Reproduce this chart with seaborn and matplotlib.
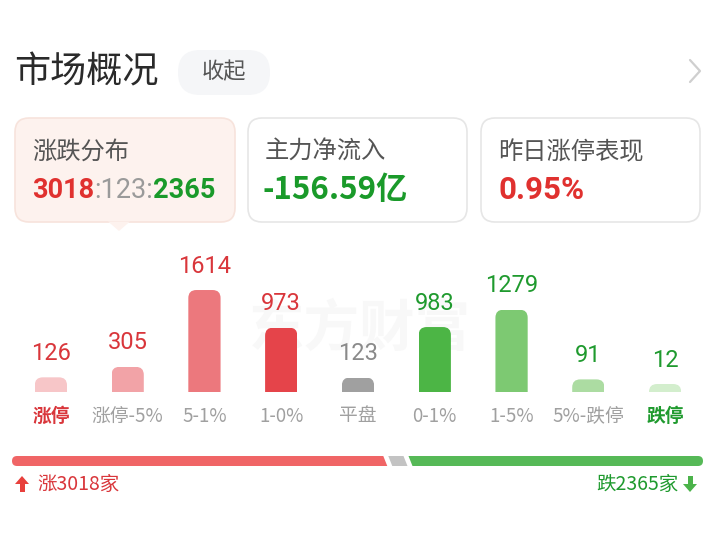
import numpy as np
import pandas as pd
import matplotlib
matplotlib.use("Agg")
import matplotlib.pyplot as plt
import seaborn as sns
from matplotlib.patches import FancyBboxPatch, Rectangle, Polygon
from matplotlib.transforms import IdentityTransform
from matplotlib.lines import Line2D

# ---------------- data ----------------
categories = ["涨停", "涨停-5%", "5-1%", "1-0%", "平盘", "0-1%", "1-5%", "5%-跌停", "跌停"]
counts = [126, 305, 1614, 973, 123, 983, 1279, 91, 12]
bar_colors = ["#f7c6c8", "#f2a3a7", "#ec787d", "#e5444a", "#a0a0a0",
              "#4cb545", "#7dc972", "#acdca2", "#d3eecd"]
value_colors = ["#d9363b"] * 4 + ["#8a8a8a"] + ["#1f9a2e"] * 4
label_colors = ["#d9363b"] + ["#a0a0a0"] * 7 + ["#1f9a2e"]

title = "市场概况"
collapse_label = "收起"
card_titles = ["涨跌分布", "主力净流入", "昨日涨停表现"]
up_total, flat_total, down_total = 3018, 123, 2365
net_inflow = "-156.59亿"
yesterday_limit = "0.95%"

BASE = 124  # bars are drawn on top of a minimum base height

W, H = 716, 537
sns.set_theme(style="white")
plt.rcParams["font.family"] = ["Noto Sans CJK SC", "DejaVu Sans"]

fig = plt.figure(figsize=(W / 100, H / 100), dpi=100)
fig.patch.set_facecolor("white")
ID = IdentityTransform()


def px(x, y):
    return (x, H - y)


def ftext(x, y, s, **kw):
    return fig.text(x, H - y, s, transform=ID, **kw)


# ---------------- header ----------------
ftext(14, 72, title, fontsize=26, color="#2a2a2a", va="center", ha="left", fontweight="medium")
pill = FancyBboxPatch(px(178, 95), 92, 45, boxstyle="round,pad=0,rounding_size=22",
                      transform=ID, facecolor="#f5f6f8", edgecolor="none")
fig.add_artist(pill)
ftext(224, 72, collapse_label, fontsize=16, color="#555555", va="center", ha="center")
fig.add_artist(Line2D([690, 700, 690], [H - 60, H - 71, H - 82], transform=ID,
                      color="#cfcfcf", lw=1.6, solid_capstyle="round", solid_joinstyle="round"))

# ---------------- cards ----------------
cards = [(15, 235, "#fdf2ee", "#f7e3dc"), (248, 467, "#ffffff", "#e6e6e6"), (481, 700, "#ffffff", "#e6e6e6")]
for (x0, x1, fc, ec) in cards:
    fig.add_artist(FancyBboxPatch(px(x0, 222), x1 - x0, 104, boxstyle="round,pad=0,rounding_size=14",
                                  transform=ID, facecolor=fc, edgecolor=ec, lw=1.2))
fig.add_artist(Polygon([px(108, 221.5), px(130, 221.5), px(119, 231)], closed=True,
                       transform=ID, facecolor="#fdf2ee", edgecolor="none"))
for (x0, _, _, _), t in zip(cards, card_titles):
    ftext(x0 + 17, 152, t, fontsize=17.5, color="#555555", va="center", ha="left")

# ratio text
ytxt = 190
num_font = ["Roboto", "DejaVu Sans"]
t1 = ftext(32, ytxt, f"{up_total}", fontsize=19.5, fontweight="bold",
           color="#e0312f", va="center", ha="left", family=num_font)
fig.canvas.draw()
r = fig.canvas.get_renderer()
bb = t1.get_window_extent(r)
t2 = fig.text(bb.x1, H - ytxt, f":{flat_total}:", transform=ID, fontsize=19.5,
              color="#9a9a9a", va="center", ha="left", family=num_font)
bb2 = t2.get_window_extent(r)
fig.text(bb2.x1, H - ytxt, f"{down_total}", transform=ID, fontsize=19.5, fontweight="bold",
         color="#1a9a2a", va="center", ha="left", family=num_font)
ftext(263, ytxt, net_inflow, fontsize=22.5, fontweight="bold", color="#1a9a2a", va="center", ha="left")
ftext(498, ytxt, yesterday_limit, fontsize=22.5, fontweight="bold", color="#e0312f", va="center",
      ha="left", family=num_font)

# ---------------- bar chart ----------------
ax_left, ax_right = 12.5, 703.5
base_y, top_y = 392, 250
ax = fig.add_axes([ax_left / W, (H - base_y) / H, (ax_right - ax_left) / W, (base_y - top_y) / H])
ax.set_facecolor("none")
ax.patch.set_alpha(0)

df = pd.DataFrame({"cat": categories, "disp": np.array(counts) + BASE})
sns.barplot(data=df, x="cat", y="disp", hue="cat", palette=bar_colors, legend=False,
            width=0.42, ax=ax, order=categories, saturation=1)
ax.set_xlim(-0.5, len(categories) - 0.5)
ax.set_ylim(0, 2420)
ax.axis("off")

# faint watermark behind everything
fig.text(360, H - 330, "东方财富", transform=ID, fontsize=40, fontweight="bold",
         color="#f8f8f8", ha="center", va="center", zorder=-5)

# replace bars by rounded-top bars
rad = 8
for p, c in zip(ax.patches, bar_colors):
    x0, y0 = ax.transData.transform((p.get_x(), p.get_y()))
    x1, y1 = ax.transData.transform((p.get_x() + p.get_width(), p.get_y() + p.get_height()))
    p.set_visible(False)
    w, h = x1 - x0, y1 - y0
    rb = FancyBboxPatch((x0, y0 - 2 * rad), w, h + 2 * rad,
                        boxstyle=f"round,pad=0,rounding_size={rad}", transform=ID,
                        facecolor=c, edgecolor="none", zorder=2)
    clip = Rectangle((x0, y0), w, h, transform=ID)
    fig.add_artist(rb)
    rb.set_clip_path(clip)

for i, (v, vc, lc, cat) in enumerate(zip(counts, value_colors, label_colors, categories)):
    ax.annotate(f"{v}", (i, v + BASE), xytext=(0, 24), textcoords="offset pixels",
                ha="center", va="center", fontsize=17, color=vc, family=num_font)
    bold = "bold" if cat in ("涨停", "跌停") else "normal"
    ax.annotate(cat, (i, 0), xytext=(0, -24), textcoords="offset pixels", ha="center",
                va="center", fontsize=13.5, color=lc, fontweight=bold, annotation_clip=False)

# ---------------- bottom ratio bar ----------------
bx0, bx1, by0, by1 = 12, 703, 456, 466
gap = 5
scale = (bx1 - bx0 - 2 * gap) / (up_total + flat_total + down_total)
red_end = bx0 + up_total * scale
gray_end = red_end + gap + flat_total * scale
green_start = gray_end + gap
sl = 2  # half slant
capsule = FancyBboxPatch(px(bx0, by1), bx1 - bx0, by1 - by0, boxstyle="round,pad=0,rounding_size=5",
                         transform=ID, facecolor="none", edgecolor="none")
fig.add_artist(capsule)
segs = [
    (bx0 - 10, red_end, "#f06566"),
    (red_end + gap, gray_end, "#c3c3c3"),
    (green_start, bx1 + 10, "#56b957"),
]
for (a, b, c) in segs:
    poly = Polygon([px(a - sl, by0), px(b - sl, by0), px(b + sl, by1), px(a + sl, by1)], closed=True,
                   transform=ID, facecolor=c, edgecolor="none")
    fig.add_artist(poly)
    poly.set_clip_path(capsule)

# arrows and totals
fig.add_artist(Polygon([px(15, 484), px(22, 476), px(29, 484)], transform=ID, facecolor="#e8403c", edgecolor="none"))
fig.add_artist(Rectangle(px(19.5, 492), 5, 9, transform=ID, facecolor="#e8403c", edgecolor="none"))
ftext(37, 484, f"涨{up_total}家", fontsize=14, color="#d9363b", va="center", ha="left")
fig.add_artist(Polygon([px(683, 484), px(690, 492), px(697, 484)], transform=ID, facecolor="#4bb34a", edgecolor="none"))
fig.add_artist(Rectangle(px(687.5, 485), 5, 9, transform=ID, facecolor="#4bb34a", edgecolor="none"))
ftext(679, 484, f"跌{down_total}家", fontsize=14, color="#1f9a2e", va="center", ha="right")

fig.savefig("out.png", dpi=100, facecolor="white")
